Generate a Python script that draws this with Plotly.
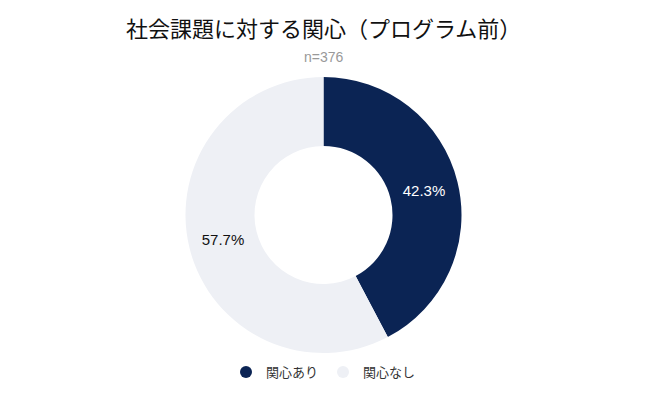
import plotly.graph_objects as go

labels = ["関心あり", "関心なし"]
counts = [159, 217]
colors = ["#0b2454", "#eef0f5"]
text_colors = ["#ffffff", "#111111"]
n_total = sum(counts)

font_family = "Liberation Sans, Arial, Noto Sans CJK JP, sans-serif"

# the page is shown with an 8px body offset, so margins are shifted to compensate
top, bottom, left, right = 69, 55, 12, 28
plot_h = 400 - top - bottom

fig = go.Figure()

fig.add_trace(go.Pie(
    labels=labels,
    values=counts,
    hole=0.5,
    sort=False,
    direction="clockwise",
    rotation=0,
    marker=dict(colors=colors, line=dict(width=0)),
    textinfo="percent",
    texttemplate="%{percent:.1%}",
    textposition="inside",
    insidetextorientation="horizontal",
    textfont=dict(size=15, color=text_colors, family=font_family),
    showlegend=False,
))

# legend with round markers
for lab, col in zip(labels, colors):
    fig.add_trace(go.Scatter(
        x=[None], y=[None], mode="markers", name=lab,
        marker=dict(color=col, size=14, symbol="circle"),
    ))

fig.update_layout(
    width=647, height=400,
    margin=dict(t=top, b=bottom, l=left, r=right),
    paper_bgcolor="white",
    plot_bgcolor="white",
    font=dict(family=font_family, color="#222222"),
    xaxis=dict(visible=False),
    yaxis=dict(visible=False),
    legend=dict(orientation="h", x=0.5, xanchor="center",
                y=1 - (364 - top) / plot_h, yanchor="middle",
                font=dict(size=13, color="#333333"), itemsizing="constant"),
    annotations=[
        dict(text="社会課題に対する関心（プログラム前）", x=0.5, xref="paper", yref="paper",
             y=1 + (top - 21) / plot_h, yanchor="middle",
             showarrow=False, font=dict(size=22, color="#111111")),
        dict(text=f"n={n_total}", x=0.5, xref="paper", yref="paper",
             y=1 + (top - 49) / plot_h, yanchor="middle",
             showarrow=False, font=dict(size=14, color="#999999")),
    ],
)

fig.write_html("out.html")
